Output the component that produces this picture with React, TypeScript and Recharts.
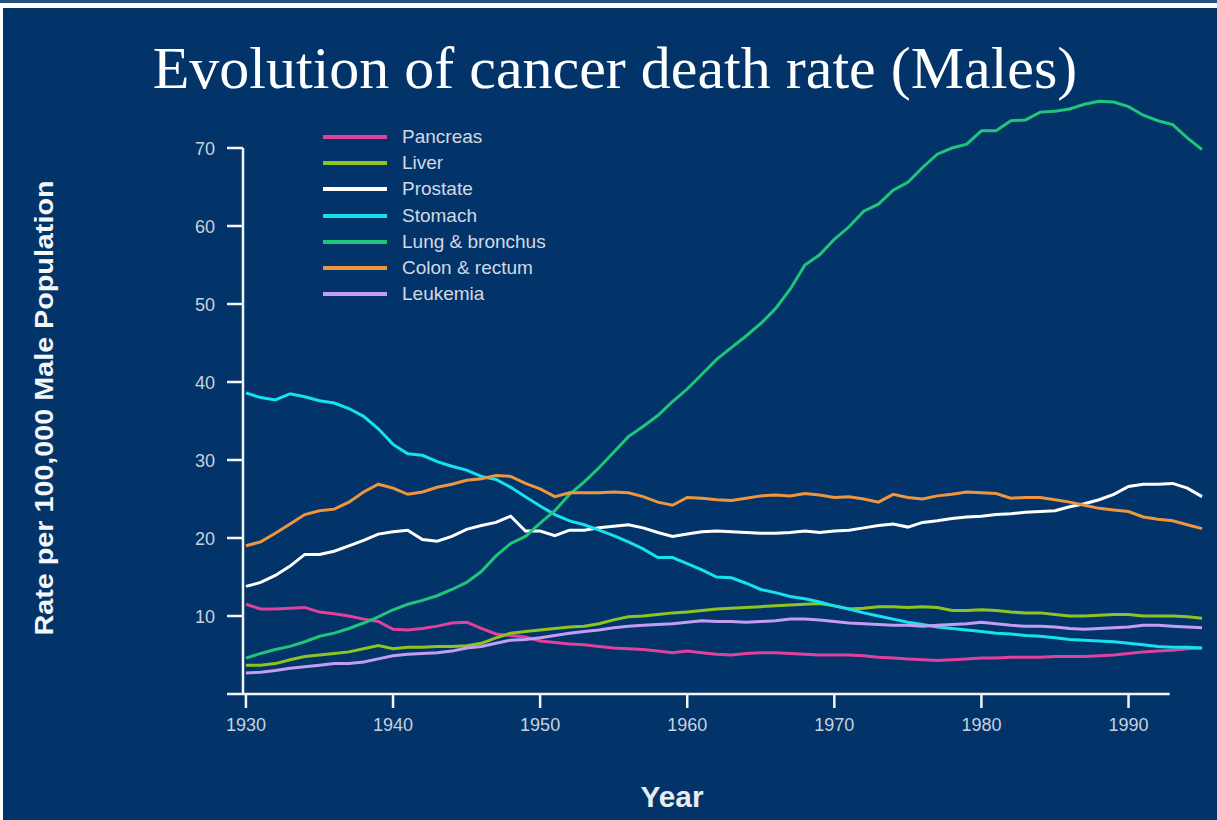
import React from 'react';
import { LineChart, Line, XAxis, YAxis, Legend, ReferenceLine } from 'recharts';

const years = [
  1930, 1931, 1932, 1933, 1934, 1935, 1936, 1937, 1938, 1939,
  1940, 1941, 1942, 1943, 1944, 1945, 1946, 1947, 1948, 1949,
  1950, 1951, 1952, 1953, 1954, 1955, 1956, 1957, 1958, 1959,
  1960, 1961, 1962, 1963, 1964, 1965, 1966, 1967, 1968, 1969,
  1970, 1971, 1972, 1973, 1974, 1975, 1976, 1977, 1978, 1979,
  1980, 1981, 1982, 1983, 1984, 1985, 1986, 1987, 1988, 1989,
  1990, 1991, 1992, 1993, 1994, 1995,
];

const pancreas = [
  11.5, 10.9, 10.9, 11.0, 11.1, 10.5, 10.3, 10.0, 9.6, 9.3,
  8.3, 8.2, 8.4, 8.7, 9.1, 9.2, 8.4, 7.7, 7.5, 7.3,
  6.8, 6.6, 6.4, 6.3, 6.1, 5.9, 5.8, 5.7, 5.5, 5.3,
  5.5, 5.3, 5.1, 5.0, 5.2, 5.3, 5.3, 5.2, 5.1, 5.0,
  5.0, 5.0, 4.9, 4.7, 4.6, 4.5, 4.4, 4.3, 4.4, 4.5,
  4.6, 4.6, 4.7, 4.7, 4.7, 4.8, 4.8, 4.8, 4.9, 5.0,
  5.2, 5.4, 5.5, 5.6, 5.8, 5.9,
];

const liver = [
  3.7, 3.7, 3.9, 4.4, 4.8, 5.0, 5.2, 5.4, 5.8, 6.2,
  5.8, 6.0, 6.0, 6.1, 6.1, 6.2, 6.5, 7.2, 7.8, 8.0,
  8.2, 8.4, 8.6, 8.7, 9.0, 9.5, 9.9, 10.0, 10.2, 10.4,
  10.5, 10.7, 10.9, 11.0, 11.1, 11.2, 11.3, 11.4, 11.5, 11.6,
  11.3, 10.9, 11.0, 11.2, 11.2, 11.1, 11.2, 11.1, 10.7, 10.7,
  10.8, 10.7, 10.5, 10.4, 10.4, 10.2, 10.0, 10.0, 10.1, 10.2,
  10.2, 10.0, 10.0, 10.0, 9.9, 9.7,
];

const prostate = [
  13.8, 14.3, 15.2, 16.4, 17.9, 17.9, 18.3, 19.0, 19.7, 20.5,
  20.8, 21.0, 19.8, 19.6, 20.2, 21.1, 21.6, 22.0, 22.8, 20.9,
  20.9, 20.3, 21.0, 21.0, 21.3, 21.5, 21.7, 21.3, 20.7, 20.2,
  20.5, 20.8, 20.9, 20.8, 20.7, 20.6, 20.6, 20.7, 20.9, 20.7,
  20.9, 21.0, 21.3, 21.6, 21.8, 21.4, 22.0, 22.2, 22.5, 22.7,
  22.8, 23.0, 23.1, 23.3, 23.4, 23.5, 24.0, 24.4, 24.9, 25.6,
  26.6, 26.9, 26.9, 27.0, 26.4, 25.3,
];

const stomach = [
  38.6, 38.0, 37.7, 38.5, 38.1, 37.6, 37.3, 36.6, 35.6, 34.0,
  32.0, 30.8, 30.6, 29.8, 29.2, 28.7, 27.9, 27.5, 26.5, 25.3,
  24.1, 23.0, 22.2, 21.7, 21.0, 20.3, 19.5, 18.6, 17.5, 17.5,
  16.7, 15.9, 15.0, 14.9, 14.2, 13.4, 13.0, 12.5, 12.2, 11.8,
  11.3, 10.9, 10.4, 10.0, 9.6, 9.2, 8.9, 8.6, 8.4, 8.2,
  8.0, 7.8, 7.7, 7.5, 7.4, 7.2, 7.0, 6.9, 6.8, 6.7,
  6.5, 6.3, 6.1, 6.0, 6.0, 5.9,
];

const lung = [
  4.6, 5.2, 5.7, 6.1, 6.7, 7.4, 7.8, 8.4, 9.1, 9.9,
  10.8, 11.5, 12.0, 12.6, 13.4, 14.3, 15.7, 17.7, 19.3, 20.2,
  21.9, 23.5, 25.6, 27.2, 29.0, 31.0, 33.0, 34.3, 35.7, 37.5,
  39.1, 41.0, 42.9, 44.4, 45.9, 47.5, 49.4, 51.9, 55.0, 56.3,
  58.3, 59.9, 61.9, 62.8, 64.6, 65.6, 67.5, 69.2, 70.0, 70.5,
  72.2, 72.2, 73.5, 73.6, 74.6, 74.7, 75.0, 75.6, 76.0, 75.9,
  75.3, 74.2, 73.5, 73.0, 71.3, 69.8,
];

const colon = [
  19.0, 19.5, 20.6, 21.8, 23.0, 23.5, 23.7, 24.6, 25.9, 26.9,
  26.4, 25.6, 25.9, 26.5, 26.9, 27.4, 27.6, 28.0, 27.9, 27.0,
  26.3, 25.3, 25.8, 25.8, 25.8, 25.9, 25.8, 25.3, 24.6, 24.2,
  25.2, 25.1, 24.9, 24.8, 25.1, 25.4, 25.5, 25.4, 25.7, 25.5,
  25.2, 25.3, 25.0, 24.6, 25.6, 25.2, 25.0, 25.4, 25.6, 25.9,
  25.8, 25.7, 25.1, 25.2, 25.2, 24.9, 24.6, 24.2, 23.8, 23.6,
  23.4, 22.7, 22.4, 22.2, 21.7, 21.2,
];

const leukemia = [
  2.7, 2.8, 3.0, 3.3, 3.5, 3.7, 3.9, 3.9, 4.1, 4.5,
  4.9, 5.1, 5.2, 5.3, 5.5, 5.9, 6.1, 6.5, 6.9, 7.0,
  7.2, 7.5, 7.8, 8.0, 8.2, 8.5, 8.7, 8.8, 8.9, 9.0,
  9.2, 9.4, 9.3, 9.3, 9.2, 9.3, 9.4, 9.6, 9.6, 9.5,
  9.3, 9.1, 9.0, 8.9, 8.8, 8.8, 8.7, 8.8, 8.9, 9.0,
  9.2, 9.0, 8.8, 8.7, 8.7, 8.6, 8.4, 8.3, 8.4, 8.5,
  8.6, 8.8, 8.8, 8.7, 8.6, 8.5,
];

const seriesNames = ['Pancreas', 'Liver', 'Prostate', 'Stomach', 'Lung & bronchus', 'Colon & rectum', 'Leukemia'];
const seriesKeys = ['pancreas', 'liver', 'prostate', 'stomach', 'lung', 'colon', 'leukemia'];
const seriesColors = ['#e2409d', '#8fc322', '#ffffff', '#16e2ef', '#1fc579', '#ee963f', '#c49cf2'];
const seriesValues = [pancreas, liver, prostate, stomach, lung, colon, leukemia];

const xTicks = [1930, 1940, 1950, 1960, 1970, 1980, 1990];
const yTicks = [0, 10, 20, 30, 40, 50, 60, 70];

const X_MIN = 1929.8;
const X_MAX = 1995.2;
const X_AXIS_END = 1992.8;

const data = years.map((year, i) => {
  const row: Record<string, number> = { year };
  seriesKeys.forEach((k, j) => {
    row[k] = seriesValues[j][i];
  });
  return row;
});

const SANS = '"Liberation Sans", Arial, Helvetica, sans-serif';
const TICK_COLOR = '#c9d1dc';
const AXIS_COLOR = '#f2f4f6';

const YTick = (props: any) => {
  const { x, y, payload } = props;
  if (payload.value === 0) return <g />;
  return (
    <text x={x} y={y} dy={6.5} textAnchor="end" fill={TICK_COLOR} fontSize={18} fontFamily={SANS}>
      {payload.value}
    </text>
  );
};

const XTick = (props: any) => {
  const { x, y, payload } = props;
  return (
    <text x={x} y={y} dy={12.5} textAnchor="middle" fill={TICK_COLOR} fontSize={18} fontFamily={SANS}>
      {payload.value}
    </text>
  );
};

const LegendContent = (props: any) => {
  const payload: any[] = props.payload || [];
  const rows = seriesKeys.map((k, i) => {
    const p = payload.find((e: any) => e.dataKey === k);
    return { name: seriesNames[i], color: p ? p.color : seriesColors[i] };
  });
  return (
    <div style={{ fontFamily: SANS }}>
      {rows.map((r) => (
        <div key={r.name} style={{ display: 'flex', alignItems: 'center', height: 26.2 }}>
          <svg width={64} height={6} style={{ display: 'block' }}>
            <line x1={0} y1={3} x2={64} y2={3} stroke={r.color} strokeWidth={4} />
          </svg>
          <span style={{ marginLeft: 15, fontSize: 19, color: '#d3d9e2', whiteSpace: 'nowrap', lineHeight: '26px' }}>
            {r.name}
          </span>
        </div>
      ))}
    </div>
  );
};

export default function App() {
  return (
    <div style={{ position: 'absolute', left: 0, top: 0, width: 1217, height: 820, background: '#ffffff', overflow: 'hidden' }}>
      <div style={{ position: 'absolute', left: 0, top: 0, width: 1217, height: 3, background: '#24517f' }} />
      <div style={{ position: 'absolute', left: 3, top: 8, width: 1214, height: 812, background: '#02346a' }} />
      <div style={{ position: 'absolute', left: 0, top: 0 }}>
        <LineChart
          width={1217}
          height={820}
          data={data}
          margin={{ top: 93.4, right: 12, bottom: 86, left: 183 }}
        >
          <XAxis
            dataKey="year"
            type="number"
            domain={[X_MIN, X_MAX]}
            ticks={xTicks}
            allowDataOverflow
            axisLine={false}
            tickLine={{ stroke: AXIS_COLOR, strokeWidth: 2.5 }}
            tickSize={14}
            tickMargin={10}
            height={40}
            tick={<XTick />}
            interval={0}
          />
          <YAxis
            type="number"
            domain={[0, 77]}
            ticks={yTicks}
            allowDataOverflow
            axisLine={false}
            tickLine={{ stroke: AXIS_COLOR, strokeWidth: 2.5 }}
            tickSize={16}
            tickMargin={12}
            width={60}
            tick={<YTick />}
            interval={0}
          />
          <ReferenceLine
            segment={[{ x: X_MIN, y: 0 }, { x: X_MIN, y: 70 }]}
            stroke={AXIS_COLOR}
            strokeWidth={2.5}
          />
          <ReferenceLine
            segment={[{ x: X_MIN, y: 0 }, { x: X_AXIS_END, y: 0 }]}
            stroke={AXIS_COLOR}
            strokeWidth={2.5}
          />
          {seriesKeys.map((k, i) => (
            <Line
              key={k}
              type="linear"
              dataKey={k}
              name={seriesNames[i]}
              stroke={seriesColors[i]}
              strokeWidth={3}
              dot={false}
              activeDot={false}
              isAnimationActive={false}
            />
          ))}
          <Legend
            layout="vertical"
            align="center"
            verticalAlign="middle"
            content={<LegendContent />}
            wrapperStyle={{ left: 323, top: 124, width: 260 }}
          />
        </LineChart>
      </div>
      <svg
        width={1217}
        height={820}
        style={{ position: 'absolute', left: 0, top: 0, pointerEvents: 'none' }}
      >
        <text
          x={615}
          y={88}
          textAnchor="middle"
          fill="#ffffff"
          fontSize={60}
          fontFamily='"Liberation Serif", "Times New Roman", serif'
        >
          Evolution of cancer death rate (Males)
        </text>
        <text
          x={52.5}
          y={408}
          textAnchor="middle"
          fill="#f4f6f8"
          fontSize={25}
          fontWeight="bold"
          fontFamily={SANS}
          textLength={455}
          lengthAdjust="spacingAndGlyphs"
          transform="rotate(-90 52.5 408)"
        >
          Rate per 100,000 Male Population
        </text>
        <text
          x={672}
          y={807}
          textAnchor="middle"
          fill="#e8ecf0"
          fontSize={30}
          fontWeight="bold"
          fontFamily={SANS}
          textLength={63}
          lengthAdjust="spacingAndGlyphs"
        >
          Year
        </text>
      </svg>
    </div>
  );
}
